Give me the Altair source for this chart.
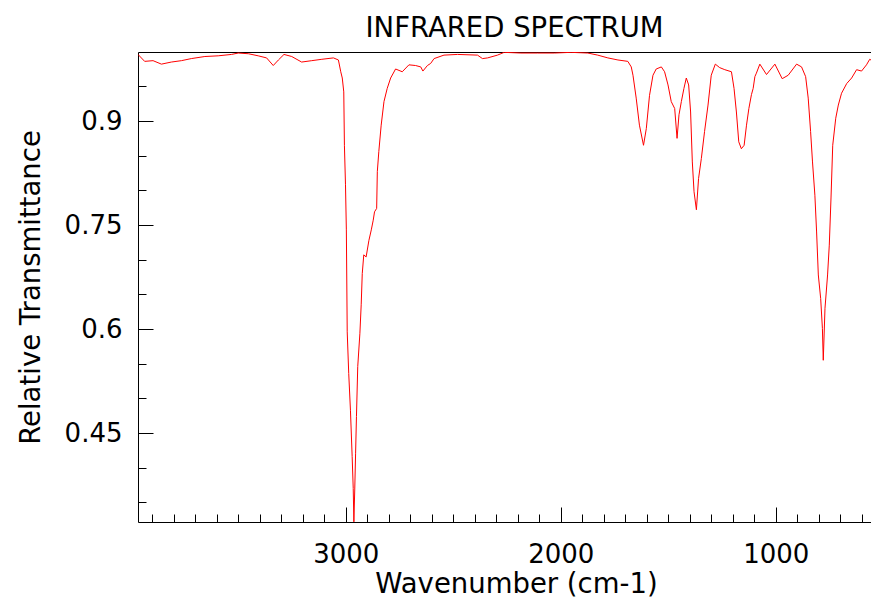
import altair as alt
import pandas as pd

# Spectrum (wavenumber in cm-1, relative transmittance)
wavenumber = [
    3966, 3935, 3896, 3857, 3811, 3764, 3718, 3655, 3593, 3531, 3500, 3453, 3407, 3368,
    3337, 3313, 3287, 3251, 3205, 3158, 3111, 3057, 3034, 3023, 3016, 3009, 3006, 3001,
    2997, 2993, 2986, 2978, 2970, 2965, 2962, 2958, 2954, 2950, 2944, 2934, 2928, 2923,
    2916, 2905, 2892, 2881, 2872, 2866, 2856, 2853, 2846, 2835, 2822, 2807, 2791, 2768,
    2737, 2706, 2675, 2651, 2641, 2620, 2605, 2589, 2543, 2480, 2387, 2364, 2340, 2294,
    2263, 2185, 2107, 2030, 1952, 1874, 1828, 1781, 1734, 1688, 1672, 1664, 1649, 1634,
    1615, 1602, 1587, 1571, 1556, 1532, 1517, 1501, 1486, 1470, 1459, 1450, 1439, 1427,
    1416, 1405, 1396, 1388, 1380, 1369, 1359, 1346, 1331, 1315, 1300, 1281, 1261, 1237,
    1206, 1194, 1183, 1172, 1160, 1147, 1136, 1125, 1113, 1105, 1097, 1090, 1074, 1043,
    1004, 970, 942, 903, 880, 861, 849, 838, 829, 818, 810, 802, 791, 783,
    779, 771, 759, 751, 743, 735, 721, 709, 694, 670, 647, 624, 601, 578,
    563, 546, 531, 515,
]
transmittance = [
    0.996, 0.986, 0.987, 0.982, 0.985, 0.987, 0.990, 0.993, 0.994, 0.996, 0.998, 0.997, 0.994, 0.991,
    0.980, 0.988, 0.996, 0.993, 0.985, 0.987, 0.989, 0.991, 0.988, 0.971, 0.962, 0.942, 0.865, 0.808,
    0.743, 0.596, 0.536, 0.483, 0.416, 0.370, 0.322, 0.368, 0.421, 0.474, 0.546, 0.594, 0.635, 0.680,
    0.707, 0.704, 0.728, 0.743, 0.757, 0.769, 0.774, 0.827, 0.856, 0.894, 0.928, 0.947, 0.962, 0.975,
    0.971, 0.981, 0.980, 0.978, 0.972, 0.980, 0.983, 0.990, 0.995, 0.996, 0.995, 0.990, 0.991, 0.995,
    0.999, 0.998, 0.998, 0.998, 0.999, 0.998, 0.995, 0.991, 0.988, 0.986, 0.978, 0.966, 0.933, 0.894,
    0.865, 0.889, 0.937, 0.966, 0.975, 0.978, 0.971, 0.952, 0.928, 0.918, 0.875, 0.909, 0.928, 0.947,
    0.962, 0.952, 0.913, 0.841, 0.798, 0.772, 0.817, 0.846, 0.885, 0.923, 0.966, 0.982, 0.977, 0.974,
    0.971, 0.947, 0.913, 0.870, 0.860, 0.865, 0.894, 0.918, 0.938, 0.947, 0.964, 0.969, 0.982, 0.967,
    0.982, 0.961, 0.966, 0.982, 0.978, 0.964, 0.933, 0.885, 0.841, 0.793, 0.740, 0.678, 0.644, 0.601,
    0.555, 0.630, 0.678, 0.721, 0.789, 0.865, 0.904, 0.923, 0.940, 0.954, 0.962, 0.974, 0.972, 0.981,
    0.989, 0.986, 0.990, 0.998,
]

x_major = [3000, 2000, 1000]
x_minor = [600, 700, 800, 900, 1100, 1200, 1300, 1400, 1500, 1600, 1700, 1800, 1900,
           2100, 2200, 2300, 2400, 2500, 2600, 2700, 2800, 2900,
           3100, 3200, 3300, 3400, 3500, 3600, 3700, 3800, 3900]
y_major = [0.45, 0.6, 0.75, 0.9]
y_minor = [0.35, 0.4, 0.5, 0.55, 0.65, 0.7, 0.8, 0.85, 0.95]

x_domain = [557, 3966]
y_domain = [0.3218, 0.9995]

FONT = "DejaVu Sans"

df = pd.DataFrame({"wn": wavenumber, "T": transmittance})

xscale = alt.Scale(domain=x_domain, reverse=True, nice=False, zero=False)
yscale = alt.Scale(domain=y_domain, nice=False, zero=False)

base = alt.Chart(df)

main = base.mark_line(color="#ff0000", strokeWidth=1, clip=True).encode(
    x=alt.X(
        "wn:Q", scale=xscale,
        axis=alt.Axis(
            orient="bottom", values=x_major, format="d", tickSize=15, offset=-15,
            domain=False, grid=False, tickColor="black", tickWidth=1,
            labelPadding=19, labelFontSize=26, labelFont=FONT, labelColor="black",
            title="Wavenumber (cm-1)", titleFont=FONT, titleFontSize=27.5,
            titleFontWeight="normal", titleColor="black",
            titleX=378, titleY=85, titleBaseline="alphabetic", titleAlign="center",
        ),
    ),
    y=alt.Y(
        "T:Q", scale=yscale,
        axis=alt.Axis(
            orient="left", values=y_major, labelExpr="'' + datum.value",
            tickSize=15, offset=-15,
            domain=False, grid=False, tickColor="black", tickWidth=1,
            labelPadding=16, labelFontSize=26, labelFont=FONT, labelColor="black",
            title="Relative Transmittance", titleFont=FONT, titleFontSize=27.5,
            titleFontWeight="normal", titleColor="black",
            titleX=-114, titleY=235, titleBaseline="alphabetic", titleAlign="center",
            titleAngle=270,
        ),
    ),
)

minor = base.mark_line(strokeOpacity=0, clip=True).encode(
    x=alt.X(
        "wn:Q", scale=xscale,
        axis=alt.Axis(
            orient="bottom", values=x_minor, tickSize=8, offset=-8, domain=False,
            grid=False, labels=False, tickColor="black", tickWidth=1, title="",
        ),
    ),
    y=alt.Y(
        "T:Q", scale=yscale,
        axis=alt.Axis(
            orient="left", values=y_minor, tickSize=8, offset=-8, domain=False,
            grid=False, labels=False, tickColor="black", tickWidth=1, title="",
        ),
    ),
)

# frame lines: bottom, left and top (no right edge, as in the reference)
frame_bl = base.mark_line(strokeOpacity=0, clip=True).encode(
    x=alt.X(
        "wn:Q", scale=xscale,
        axis=alt.Axis(orient="bottom", ticks=False, labels=False, grid=False,
                      domain=True, domainColor="black", domainWidth=1, title=""),
    ),
    y=alt.Y(
        "T:Q", scale=yscale,
        axis=alt.Axis(orient="left", ticks=False, labels=False, grid=False,
                      domain=True, domainColor="black", domainWidth=1, title=""),
    ),
)
frame_top = base.mark_line(strokeOpacity=0, clip=True).encode(
    x=alt.X(
        "wn:Q", scale=xscale,
        axis=alt.Axis(orient="top", ticks=False, labels=False, grid=False,
                      domain=True, domainColor="black", domainWidth=1, title=""),
    ),
    y=alt.Y("T:Q", scale=yscale, axis=None),
)

chart = (
    alt.layer(main, minor, frame_bl, frame_top)
    .resolve_axis(x="independent", y="independent")
    .properties(
        width=733,
        height=470,
        autosize="none",
        padding={"left": 130, "top": 44, "right": 0, "bottom": 77},
        title=alt.TitleParams(
            "INFRARED SPECTRUM", font=FONT, fontSize=27.5, fontWeight="normal",
            color="black", anchor="middle", baseline="alphabetic", offset=15,
            dx=10, dy=27,
        ),
    )
    .configure_view(stroke="transparent", strokeWidth=0)
)

chart.save("out.html", embed_options={"renderer": "svg", "actions": False})
